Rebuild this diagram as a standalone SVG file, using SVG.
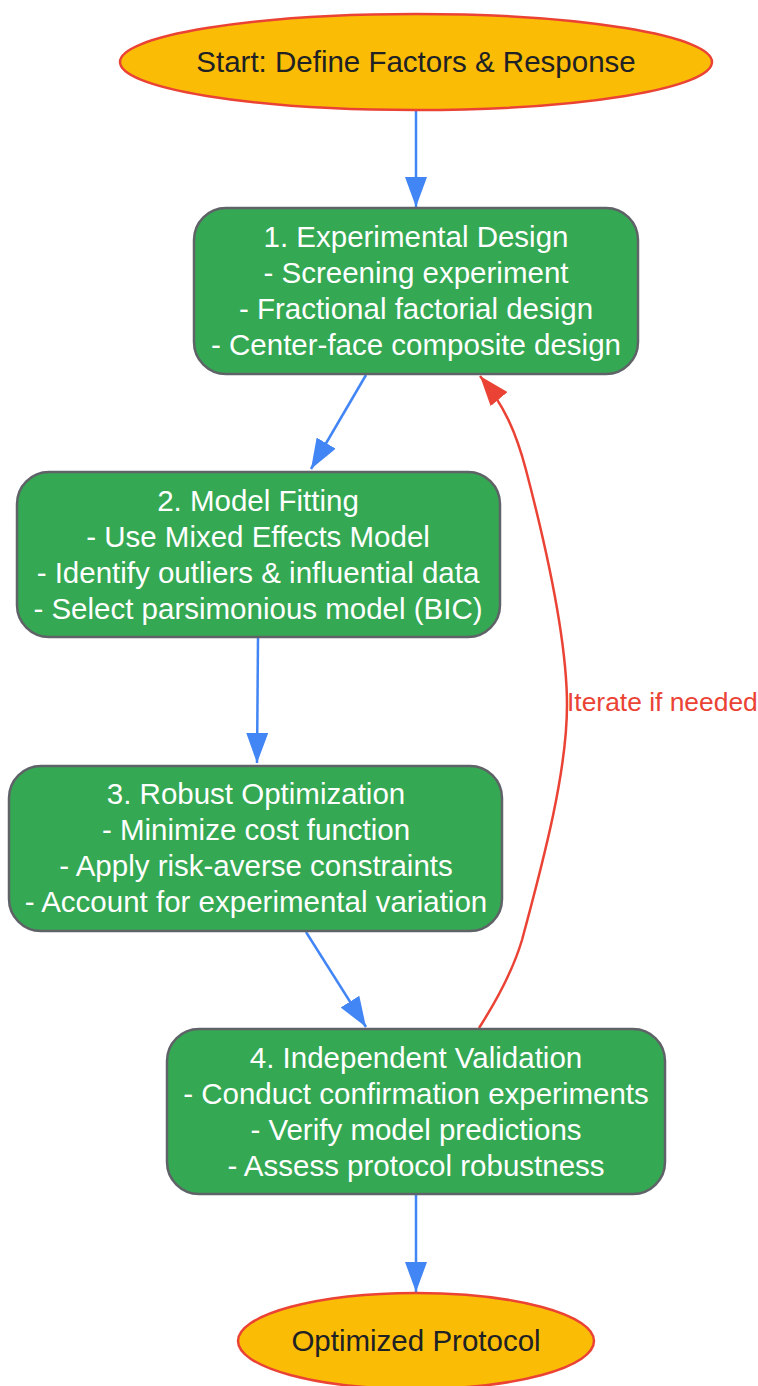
<svg xmlns="http://www.w3.org/2000/svg" width="758" height="1386" viewBox="0 0 758 1386">
<style>
.term{fill:#FBBC05;stroke:#EA4335;stroke-width:2.5}
.step{fill:#34A853;stroke:#5F6368;stroke-width:2.5}
.tt{font-family:"Liberation Sans",Arial,sans-serif;font-size:29.5px;text-anchor:middle;fill:#202124}
.st{font-family:"Liberation Sans",Arial,sans-serif;font-size:29.5px;text-anchor:middle;fill:#FFFFFF}
.e{fill:none;stroke:#4285F4;stroke-width:2.5}
.r{fill:none;stroke:#EA4335;stroke-width:2.5}
.lbl{font-family:"Liberation Sans",Arial,sans-serif;font-size:26.4px;fill:#EA4335}
</style>
<defs>
<marker id="ab" markerUnits="userSpaceOnUse" markerWidth="32" markerHeight="22" refX="30" refY="11" orient="auto"><path d="M0,0 L30,11 L0,22 Z" fill="#4285F4"/></marker>
<marker id="ar" markerUnits="userSpaceOnUse" markerWidth="32" markerHeight="22" refX="30" refY="11" orient="auto"><path d="M0,0 L30,11 L0,22 Z" fill="#EA4335"/></marker>
</defs>
<g id="connectors">
<path class="e" d="M416,110 L416,207" marker-end="url(#ab)"/>
<path class="e" d="M366,375 L311,469" marker-end="url(#ab)"/>
<path class="e" d="M258,638 L257,763" marker-end="url(#ab)"/>
<path class="e" d="M306,932 L366,1027" marker-end="url(#ab)"/>
<path class="e" d="M416,1195 L416,1292" marker-end="url(#ab)"/>
<path class="r" d="M479,1028 C497,1000 513,970 522,940 C545,855 567,770 567,705 C567,640 547,550 526,470 C516,432 504,405 480,376" marker-end="url(#ar)"/>
<text class="lbl" x="567" y="711">Iterate if needed</text>
</g>
<g id="start">
<ellipse class="term" cx="416" cy="62" rx="296" ry="48"/>
<text class="tt" x="416" y="72">Start: Define Factors &amp; Response</text>
</g>
<g id="step1">
<rect class="step" x="194" y="208" width="444" height="166" rx="32"/>
<text class="st" x="416" y="247">1. Experimental Design</text>
<text class="st" x="416" y="283">- Screening experiment</text>
<text class="st" x="416" y="319">- Fractional factorial design</text>
<text class="st" x="416" y="355">- Center-face composite design</text>
</g>
<g id="step2">
<rect class="step" x="17" y="472" width="483" height="165" rx="32"/>
<text class="st" x="258" y="511">2. Model Fitting</text>
<text class="st" x="258" y="547">- Use Mixed Effects Model</text>
<text class="st" x="258" y="583">- Identify outliers &amp; influential data</text>
<text class="st" x="258" y="619">- Select parsimonious model (BIC)</text>
</g>
<g id="step3">
<rect class="step" x="9" y="766" width="493" height="165" rx="32"/>
<text class="st" x="256" y="804">3. Robust Optimization</text>
<text class="st" x="256" y="840">- Minimize cost function</text>
<text class="st" x="256" y="876">- Apply risk-averse constraints</text>
<text class="st" x="256" y="912">- Account for experimental variation</text>
</g>
<g id="step4">
<rect class="step" x="167" y="1029" width="498" height="165" rx="32"/>
<text class="st" x="416" y="1068">4. Independent Validation</text>
<text class="st" x="416" y="1104">- Conduct confirmation experiments</text>
<text class="st" x="416" y="1140">- Verify model predictions</text>
<text class="st" x="416" y="1176">- Assess protocol robustness</text>
</g>
<g id="end">
<ellipse class="term" cx="416" cy="1341" rx="178" ry="48"/>
<text class="tt" x="416" y="1351">Optimized Protocol</text>
</g>
</svg>
